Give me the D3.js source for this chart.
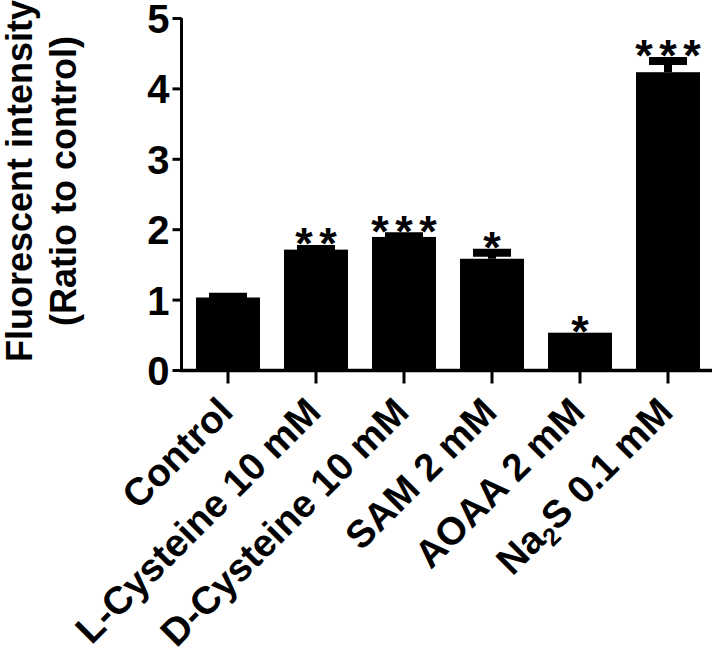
<!DOCTYPE html>
<html>
<head>
<meta charset="utf-8">
<script src="https://cdn.jsdelivr.net/npm/d3@7"></script>
<style>
  html, body { margin: 0; padding: 0; background: #fff; }
  svg { display: block; }
  text { font-family: "Liberation Sans", Arial, sans-serif; font-weight: bold; fill: #000; }
</style>
</head>
<body>
<script>
const categories = ["Control", "L-Cysteine 10 mM", "D-Cysteine 10 mM", "SAM 2 mM", "AOAA 2 mM", "Na2S 0.1 mM"];
const means = [1.03, 1.71, 1.89, 1.58, 0.53, 4.23];
const sems = [0.01, 0.01, 0.01, 0.085, 0, 0.16];
const stars = ["", "**", "***", "*", "*", "***"];
const yTicks = [0, 1, 2, 3, 4, 5];
const yLabelLines = ["Fluorescent intensity", "(Ratio to control)"];

const W = 714, H = 655;
const svg = d3.select("body").append("svg").attr("width", W).attr("height", H);

const y = d3.scaleLinear().domain([0, 5]).range([370, 18]);
const x = d3.scaleBand().domain(categories).range([184, 712]).paddingInner(0.273).paddingOuter(0.1365);

// bars
svg.append("g").selectAll("rect").data(categories).join("rect")
  .attr("x", d => x(d))
  .attr("width", x.bandwidth())
  .attr("y", (d, i) => y(means[i]))
  .attr("height", (d, i) => y(0) - y(means[i]))
  .attr("fill", "#000");

// error bars (upper only)
const eg = svg.append("g");
categories.forEach((c, i) => {
  if (sems[i] <= 0) return;
  const cx = x(c) + x.bandwidth() / 2;
  const yt = y(means[i] + sems[i]);
  eg.append("line").attr("x1", cx).attr("x2", cx).attr("y1", y(means[i])).attr("y2", yt)
    .attr("stroke", "#000").attr("stroke-width", 8);
  eg.append("line").attr("x1", cx - 19).attr("x2", cx + 19).attr("y1", yt).attr("y2", yt)
    .attr("stroke", "#000").attr("stroke-width", 8);
});

// significance stars
const sg = svg.append("g");
categories.forEach((c, i) => {
  if (!stars[i]) return;
  const cx = x(c) + x.bandwidth() / 2;
  const top = sems[i] > 0 ? y(means[i] + sems[i]) - 4 : y(means[i]);
  const fs = 45;
  sg.append("text")
    .attr("x", cx + 3.25)
    .attr("y", top - 5 + 0.43 * fs)
    .attr("text-anchor", "middle")
    .attr("font-size", fs)
    .attr("letter-spacing", 6.5)
    .text(stars[i]);
});

// y axis
const yAxis = d3.axisLeft(y).tickValues(yTicks).tickFormat(d3.format("d")).tickSize(9).tickPadding(3);
const yg = svg.append("g").attr("transform", "translate(181.5,0)").call(yAxis);
yg.select(".domain").attr("stroke-width", 3).attr("d", `M0,${y(5)}V${y(0) + 1.5}`);
yg.selectAll(".tick line").attr("stroke-width", 3);
yg.selectAll(".tick text").attr("font-size", 40).attr("dy", "0.36em")
  .style("font-family", "'Liberation Sans', Arial, sans-serif").style("font-weight", "bold");

// x axis
const xAxis = d3.axisBottom(x).tickSize(13).tickFormat("");
const xg = svg.append("g").attr("transform", "translate(0,370.5)").call(xAxis);
xg.select(".domain").attr("stroke-width", 3.5).attr("d", `M180,0H712`);
xg.selectAll(".tick line").attr("stroke-width", 3);

// x labels rotated
const lg = svg.append("g");
categories.forEach((c, i) => {
  const cx = x(c) + x.bandwidth() / 2;
  const t = lg.append("text")
    .attr("transform", `translate(${cx + 7},414) rotate(-45)`)
    .attr("text-anchor", "end")
    .attr("font-size", 38.5);
  const m = c.match(/^([A-Za-z]+)(\d)([A-Za-z].*)$/);
  if (m) {
    t.append("tspan").text(m[1]);
    t.append("tspan").attr("font-size", 25).attr("dy", 8).text(m[2]);
    t.append("tspan").attr("dy", -8).text(m[3]);
  } else {
    t.text(c);
  }
});

// y label
const yl = svg.append("text")
  .attr("transform", "translate(0,181) rotate(-90)")
  .attr("text-anchor", "middle")
  .attr("font-size", 36);
yl.append("tspan").attr("x", 0).attr("y", 32).text(yLabelLines[0]);
yl.append("tspan").attr("x", 0).attr("y", 76).text(yLabelLines[1]);
</script>
</body>
</html>
